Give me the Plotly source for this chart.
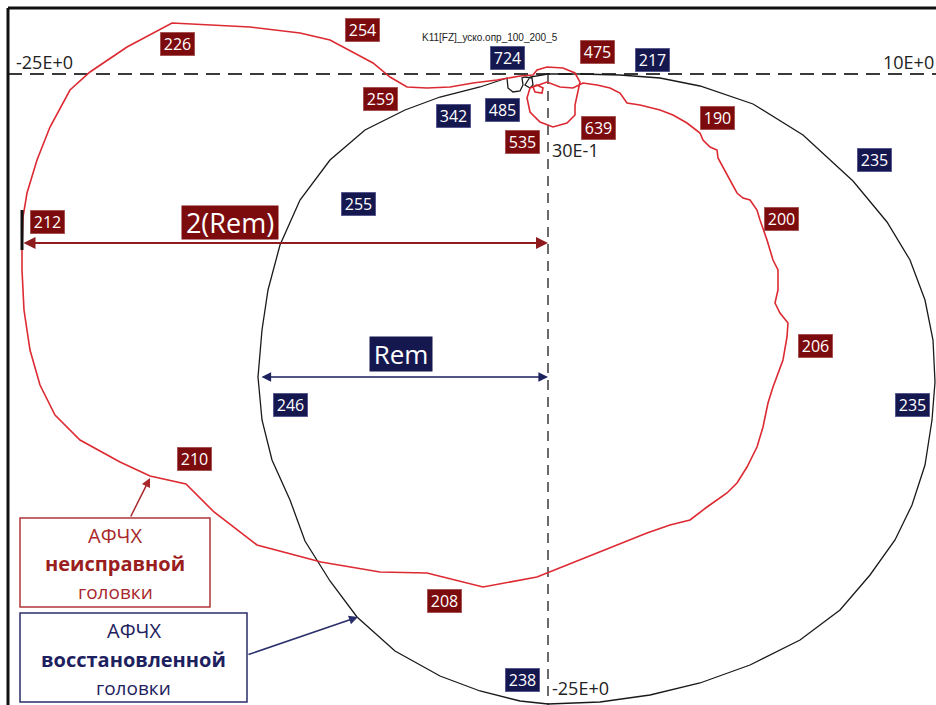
import plotly.graph_objects as go

# ---- data (Re / Im, arbitrary units) ----
restored_re = [0, 3.2, 7.2, 11.2, 15.2, 20.5, 25.5, 30.5, 33.9, 36.2, 37.7, 38.5, 38.7, 38.4, 37.7, 36.4,
               34.7, 32.2, 29.2, 25.2, 20.2, 15.2, 10.2, 5.2, 0, -2.8, -6.8, -10.8, -15.3, -19.1, -21.8,
               -24.3, -25.8, -27.6, -28.6, -29.0, -28.6, -28.0, -26.8, -24.8, -21.8, -18.3, -14.3, -10.8,
               -6.8, -4.1, -4.0, -3.5, -2.8, -2.5, -2.6, -2.3, -1.6, -1.5, -1.8, -2.3, -1.8, -0.8, 0]
restored_im = [0, 0, -0.1, -0.4, -1.2, -3.0, -6.1, -10.7, -14.8, -18.6, -22.6, -26.6, -30.8, -34.6, -39.1,
               -43.1, -46.6, -50.1, -53.6, -56.6, -59.1, -60.9, -62.1, -62.8, -63.0, -62.7, -61.7, -60.2,
               -57.7, -54.3, -50.7, -46.7, -42.6, -38.6, -34.6, -30.3, -25.6, -21.6, -17.1, -12.6, -8.6,
               -5.6, -3.6, -2.3, -1.3, -0.4, -1.4, -1.8, -1.7, -1.1, -0.4, -0.3, -0.4, -1.1, -1.4, -1.1,
               -0.3, -0.1, 0]

faulty_re = [-2.8, -1.5, -1.1, -0.1, 1.5, 2.7, 3.2, 3.0, 2.7, 2.7, 1.9, 0.5, -0.8, -1.8, -2.1, -1.8, -1.1,
             -0.5, -0.6, -1.3, -1.5, -0.1, 1.2, 2.5, 3.5, 4.9, 6.2, 7.2, 7.9, 9.2, 11.2, 12.5, 13.9, 15.2,
             15.5, 16.2, 16.9, 17.0, 17.5, 18.2, 18.9, 19.5, 20.2, 20.9, 21.2, 21.9, 22.5, 23.0, 23.0,
             22.7, 23.2, 24.0, 23.9, 23.5, 22.5, 22.0, 21.5, 20.9, 19.9, 18.9, 17.9, 15.9, 14.2, 12.2,
             9.9, 4.9, 0, -1.1, -6.5, -12.1, -16.8, -22.7, -29.1, -33.4, -36.2, -39.8, -42.8, -46.8,
             -49.3, -50.8, -51.8, -52.4, -52.6, -52.6, -52.5, -52.1, -51.1, -49.8, -47.8, -45.8, -42.1,
             -37.6, -29.8, -24.8, -21.8, -20.3, -17.5, -15.8, -14.1, -12.1, -9.8, -7.5, -5.1, -2.8]
faulty_im = [-0.2, -0.1, 0.4, 0.7, 0.6, 0.1, -0.8, -1.8, -3.1, -4.1, -4.9, -5.3, -4.8, -3.8, -2.4, -1.4,
             -1.1, -1.4, -1.9, -1.8, -1.3, -0.8, -1.3, -1.4, -0.9, -1.1, -1.4, -1.9, -2.9, -3.1, -3.6,
             -4.1, -4.9, -5.9, -6.6, -7.3, -7.6, -8.4, -9.3, -10.6, -11.9, -12.4, -12.6, -13.6, -14.6,
             -16.6, -18.6, -19.6, -21.6, -22.9, -23.9, -24.9, -26.3, -28.6, -31.3, -32.9, -35.3, -37.3,
             -39.3, -40.9, -41.9, -43.3, -44.6, -45.1, -45.9, -47.9, -49.9, -50.3, -51.3, -49.9, -49.8,
             -48.8, -47.1, -43.8, -41.0, -40.2, -38.8, -36.6, -34.1, -31.1, -27.6, -23.6, -19.6, -17.3,
             -14.3, -11.9, -8.6, -5.3, -1.6, 0.2, 2.7, 5.1, 4.7, 4.1, 3.4, 2.6, 1.1, -0.3, -1.3, -1.4,
             -1.3, -0.9, -0.6, -0.2]

faulty_freq = ["226", "254", "259", "535", "475", "639", "190", "200", "206", "212", "210", "208"]
faulty_lbl_re = [-37.1, -18.6, -16.8, -2.6, 4.9, 5.0, 16.9, 23.3, 26.7, -50.1, -35.4, -10.4]
faulty_lbl_im = [3.0, 4.4, -2.5, -6.8, 2.2, -5.4, -4.4, -14.5, -27.2, -14.8, -38.5, -52.7]

restored_freq = ["724", "217", "342", "485", "235", "255", "246", "235", "238"]
restored_lbl_re = [-4.1, 10.4, -9.5, -4.6, 32.6, -19.0, -25.8, 36.4, -2.6]
restored_lbl_im = [1.6, 1.4, -4.2, -3.6, -8.6, -13.0, -33.1, -33.1, -60.6]

rem_im = -30.3
rem_left = -28.8
rem2_im = -16.9
rem2_left = -52.6

X_RANGE = [-54.0, 38.8]
Y_RANGE = [-63.1, 6.6]

RED_LINE = "#dd2a32"
RED_BOX = "#7c0b0d"
NAVY = "#15174f"
RED_TXT = "#a8282c"
NAVY_TXT = "#1d215e"
FONT = "Open Sans"

fig = go.Figure()
fig.add_trace(go.Scatter(x=restored_re, y=restored_im, mode="lines",
                         line=dict(color="#1a1a1a", width=1.3), hoverinfo="skip"))
fig.add_trace(go.Scatter(x=faulty_re, y=faulty_im, mode="lines",
                         line=dict(color=RED_LINE, width=1.6), hoverinfo="skip"))

shapes = []
shapes.append(dict(type="line", xref="x", yref="y", x0=X_RANGE[0], x1=X_RANGE[1], y0=0, y1=0,
                   line=dict(color="#3a3a3a", width=2, dash="14px,8px"), layer="below"))
shapes.append(dict(type="line", xref="x", yref="y", x0=0, x1=0, y0=0, y1=Y_RANGE[0],
                   line=dict(color="#3a3a3a", width=1.5, dash="10px,7px"), layer="below"))
shapes.append(dict(type="line", xref="paper", yref="paper", x0=0, x1=1, y0=1, y1=1,
                   line=dict(color="#111", width=3)))
shapes.append(dict(type="line", xref="paper", yref="paper", x0=0, x1=0, y0=0, y1=1,
                   line=dict(color="#111", width=3)))
shapes.append(dict(type="line", xref="x", yref="y", x0=-52.6, x1=-52.6, y0=-13.6, y1=-17.6,
                   line=dict(color="#111", width=3)))
shapes.append(dict(type="rect", xref="x", yref="y", x0=-52.8, x1=-33.8, y0=-44.4, y1=-53.3,
                   line=dict(color="#b0363a", width=1.5), fillcolor="white"))
shapes.append(dict(type="rect", xref="x", yref="y", x0=-52.8, x1=-30.1, y0=-53.9, y1=-62.8,
                   line=dict(color="#2a2e6a", width=1.5), fillcolor="white"))

ann = []
for t, x, y in zip(faulty_freq, faulty_lbl_re, faulty_lbl_im):
    ann.append(dict(x=x, y=y, text=t, showarrow=False, bgcolor=RED_BOX, width=32, height=21,
                    borderpad=1, bordercolor="#b06060", borderwidth=0.5,
                    font=dict(family=FONT, size=16, color="white")))
for t, x, y in zip(restored_freq, restored_lbl_re, restored_lbl_im):
    ann.append(dict(x=x, y=y, text=t, showarrow=False, bgcolor=NAVY, width=32, height=21,
                    borderpad=1, bordercolor="#6060a0", borderwidth=0.5,
                    font=dict(family=FONT, size=16, color="white")))

ann.append(dict(x=-53.4, y=1.2, text="-25E+0", showarrow=False, xanchor="left",
                font=dict(family=FONT, size=18, color="#222")))
ann.append(dict(x=38.8, y=1.2, text="10E+0", showarrow=False, xanchor="right",
                font=dict(family=FONT, size=18, color="#222")))
ann.append(dict(x=0.2, y=-7.6, text="30E-1", showarrow=False, xanchor="left",
                font=dict(family=FONT, size=18, color="#222")))
ann.append(dict(x=0.2, y=-61.4, text="-25E+0", showarrow=False, xanchor="left",
                font=dict(family=FONT, size=18, color="#222")))
ann.append(dict(x=-5.8, y=3.7, text="K11[FZ]_уско.опр_100_200_5", showarrow=False,
                font=dict(family="Liberation Sans Narrow, Arial", size=10, color="#222")))

ann.append(dict(x=0, y=rem2_im, ax=rem2_left, ay=rem2_im, axref="x", ayref="y", text="",
                showarrow=True, arrowside="end+start", arrowhead=2, arrowsize=1.2,
                arrowwidth=2, arrowcolor="#8e1c1e"))
ann.append(dict(x=0, y=rem_im, ax=rem_left, ay=rem_im, axref="x", ayref="y", text="",
                showarrow=True, arrowside="end+start", arrowhead=2, arrowsize=1.2,
                arrowwidth=1.6, arrowcolor="#1d215e"))
ann.append(dict(x=-31.8, y=-14.8, text="2(Rem)", showarrow=False, bgcolor=RED_BOX,
                width=94, height=31, borderpad=1,
                font=dict(family=FONT, size=27, color="white")))
ann.append(dict(x=-14.7, y=-28.0, text="Rem", showarrow=False, bgcolor=NAVY,
                width=60, height=32, borderpad=1,
                font=dict(family=FONT, size=26, color="white")))

ann.append(dict(x=-39.8, y=-40.4, ax=-41.8, ay=-44.4, axref="x", ayref="y", text="",
                showarrow=True, arrowhead=2, arrowsize=1.2, arrowwidth=1.5, arrowcolor="#a8282c"))
ann.append(dict(x=-19.0, y=-54.3, ax=-30.1, ay=-58.1, axref="x", ayref="y", text="",
                showarrow=True, arrowhead=2, arrowsize=1.2, arrowwidth=1.5, arrowcolor="#2a2e6a"))

ann += [
    dict(x=-43.3, y=-46.1, text="АФЧХ", showarrow=False, font=dict(family=FONT, size=20, color=RED_TXT)),
    dict(x=-43.3, y=-48.9, text="<b>неисправной</b>", showarrow=False, font=dict(family=FONT, size=20, color="#9a1d20")),
    dict(x=-43.3, y=-51.8, text="головки", showarrow=False, font=dict(family=FONT, size=19, color=RED_TXT)),
    dict(x=-41.45, y=-55.6, text="АФЧХ", showarrow=False, font=dict(family=FONT, size=20, color=NAVY_TXT)),
    dict(x=-41.45, y=-58.5, text="<b>восстановленной</b>", showarrow=False, font=dict(family=FONT, size=20, color=NAVY_TXT)),
    dict(x=-41.45, y=-61.35, text="головки", showarrow=False, font=dict(family=FONT, size=19, color=NAVY_TXT)),
]

fig.update_layout(
    width=936, height=705,
    margin=dict(l=8, r=0, t=8, b=0),
    paper_bgcolor="white", plot_bgcolor="white",
    showlegend=False,
    xaxis=dict(range=X_RANGE, visible=False, fixedrange=True),
    yaxis=dict(range=Y_RANGE, visible=False, fixedrange=True),
    shapes=shapes, annotations=ann,
)
fig.write_html("out.html")
